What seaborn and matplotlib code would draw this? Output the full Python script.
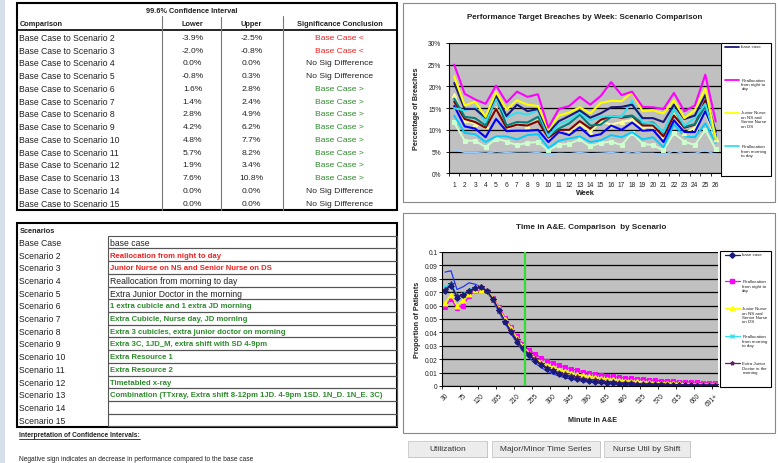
import numpy as np
import pandas as pd
import seaborn as sns
import matplotlib.pyplot as plt
from matplotlib.patches import Rectangle

sns.set_theme(style="white")
plt.rcParams['font.family'] = ['Liberation Sans', 'DejaVu Sans']

# ---- confidence interval table
comparisons = ["Base Case to Scenario %d" % i for i in range(2, 16)]
lower = [-3.9, -2.0, 0.0, -0.8, 1.6, 1.4, 2.8, 4.2, 4.8, 5.7, 1.9, 7.6, 0.0, 0.0]
upper = [-2.5, -0.8, 0.0, 0.3, 2.8, 2.4, 4.9, 6.2, 7.7, 8.2, 3.4, 10.8, 0.0, 0.0]

# ---- scenario table
scen_names = ["Base Case"] + ["Scenario %d" % i for i in range(2, 16)]
scen_desc = ["base case", "Reallocation from night to day", "Junior Nurse on NS and Senior Nurse on DS",
             "Reallocation from morning to day", "Extra Junior Doctor in the morning",
             "1 extra cubicle and 1 extra JD morning", "Extra Cubicle, Nurse day, JD morning",
             "Extra 3 cubicles, extra junior doctor on morning", "Extra 3C, 1JD_M, extra shift with SD 4-9pm",
             "Extra Resource 1", "Extra Resource 2", "Timetabled x-ray",
             "Combination (TTxray, Extra shift 8-12pm 1JD. 4-9pm 1SD. 1N_D. 1N_E. 3C)", "", ""]
scen_result = ["", "worse", "worse", "none", "none", "better", "better", "better", "better",
               "better", "better", "better", "better", "", ""]

# ---- weekly breaches (%)
weeks = list(range(1, 27))
wk_base = [20.8,14.8,14.8,12.8,18.0,13.2,15.8,14.3,14.8,9.4,12.0,13.2,14.5,12.8,13.8,15.2,15.3,15.8,12.7,12.7,11.8,15.8,12.5,13.3,18.0,9.5]
wk_night = [25.0,18.3,17.0,16.0,20.2,16.3,18.8,17.6,18.2,10.5,14.8,15.5,17.6,15.8,17.8,21.0,18.0,18.8,15.3,15.2,14.8,18.5,14.3,15.6,22.7,11.9]
wk_junior = [22.3,15.6,16.5,13.0,18.7,14.7,16.8,15.8,15.5,10.0,13.3,14.0,15.2,13.8,16.2,16.7,16.6,18.7,14.3,14.5,13.8,16.8,12.7,14.5,19.5,8.0]
wk_morning = [15.0,14.5,15.2,11.8,17.2,12.8,14.0,13.5,14.5,8.5,11.3,12.2,14.0,12.2,13.0,13.2,13.0,16.7,11.7,11.5,9.5,14.8,11.0,12.7,16.0,8.0]
wk_s6 = [16.5,12.5,11.8,10.5,14.8,10.5,11.2,11.0,12.0,8.2,10.0,10.0,12.0,10.3,12.3,13.2,12.8,13.2,11.0,11.0,8.5,13.3,10.5,11.2,16.8,8.0]
wk_s7 = [17.2,13.0,12.7,11.0,17.5,11.0,11.8,11.7,13.0,8.7,10.3,11.5,13.5,11.0,11.2,13.0,13.0,13.3,11.5,11.7,9.3,14.8,10.7,11.3,15.5,8.5]
wk_s8 = [15.5,10.8,10.3,8.3,12.5,9.7,9.8,9.8,10.0,7.2,9.5,8.8,10.6,8.5,9.0,11.0,10.0,11.7,9.8,10.0,7.2,12.2,9.5,9.5,14.3,8.8]
wk_s9 = [13.3,9.3,9.0,7.2,8.5,8.5,7.8,8.8,9.0,5.8,7.5,8.0,8.5,7.2,7.6,8.8,8.3,9.5,7.8,8.3,6.0,11.3,8.5,8.3,11.5,7.0]
wk_s10 = [11.7,7.5,7.5,6.0,8.0,7.3,6.5,7.0,7.2,5.3,6.6,6.8,7.8,6.2,7.0,7.3,6.5,9.3,6.8,6.5,5.3,9.2,7.3,6.5,10.0,5.5]
wk_s11 = [18.0,12.2,11.4,10.8,14.7,10.8,11.5,11.0,12.2,8.5,10.3,9.5,11.5,9.5,12.0,11.2,11.8,12.3,10.5,10.8,8.5,13.6,9.2,10.5,14.0,7.8]
wk_s12 = [5.5,4.8,4.8,4.6,5.0,4.8,4.6,4.6,4.8,4.2,4.6,4.5,4.8,4.5,4.6,4.8,4.5,5.0,4.6,4.6,4.2,5.2,4.5,4.6,5.3,4.3]

# ---- time in A&E (proportion of patients)
minutes = [str(m) for m in range(30, 691, 15)] + ["691+"]
t_base = [0.071,0.075,0.066,0.068,0.071,0.073,0.074,0.071,0.065,0.057,0.048,0.040,0.033,0.028,0.023,0.019,0.0155,0.013,0.011,0.009,
          0.0075,0.0063,0.0053,0.0045,0.0038,0.0032,0.0027,0.0023,0.002,0.0017,0.0015,0.0013,0.0011,0.001,0.0009,0.0008,0.0007,
          0.0006,0.0005,0.0005,0.0004,0.0004,0.0003,0.0003,0.0003,0.0002]
t_night = [0.059,0.065,0.058,0.060,0.067,0.071,0.072,0.071,0.066,0.059,0.051,0.044,0.037,0.031,0.027,0.024,0.021,0.019,0.017,0.0155,
           0.014,0.0128,0.0117,0.0107,0.0098,0.009,0.0083,0.0077,0.0071,0.0066,0.0061,0.0057,0.0053,0.0049,0.0046,0.0043,0.004,
           0.0037,0.0035,0.0033,0.0031,0.0029,0.0027,0.0025,0.0024,0.0022]
t_junior = [0.062,0.068,0.060,0.064,0.069,0.072,0.072,0.071,0.066,0.058,0.050,0.043,0.036,0.030,0.025,0.021,0.018,0.016,0.014,0.012,
            0.011,0.0098,0.0088,0.008,0.0072,0.0065,0.0059,0.0054,0.0049,0.0045,0.0041,0.0037,0.0034,0.0031,0.0029,0.0026,0.0024,
            0.0022,0.002,0.0019,0.0017,0.0016,0.0015,0.0014,0.0013,0.0012]
t_morning = [0.074,0.077,0.068,0.069,0.072,0.074,0.074,0.071,0.064,0.056,0.048,0.040,0.034,0.028,0.023,0.0195,0.016,0.0135,0.0115,0.0098,
             0.0084,0.0072,0.0062,0.0054,0.0047,0.0041,0.0036,0.0032,0.0028,0.0025,0.0022,0.002,0.0018,0.0016,0.0014,0.0013,0.0012,
             0.0011,0.001,0.0009,0.0008,0.0008,0.0007,0.0007,0.0006,0.0006]
t_juniordoc = [0.072,0.076,0.067,0.068,0.071,0.073,0.074,0.071,0.064,0.056,0.048,0.041,0.034,0.028,0.024,0.0198,0.0163,0.0138,0.0117,0.01,
               0.0086,0.0074,0.0064,0.0055,0.0048,0.0042,0.0037,0.0032,0.0028,0.0025,0.0022,0.002,0.0018,0.0016,0.0014,0.0013,0.0012,
               0.0011,0.001,0.0009,0.0008,0.0008,0.0007,0.0007,0.0006,0.0006]
t_extra = [0.085,0.086,0.072,0.074,0.077,0.076,0.074,0.070,0.064,0.055,0.047,0.039,0.032,0.026,0.021,0.017,0.014,0.011,0.009,0.0075,
           0.0062,0.0051,0.0042,0.0035,0.0029,0.0024,0.002,0.0017,0.0014,0.0012,0.001,0.0009,0.0008,0.0007,0.0006,0.0005,0.0004,
           0.0004,0.0003,0.0003,0.0002,0.0002,0.0002,0.0001,0.0001,0.0001]
target_minute = "240"

W, H = 779, 464
fig = plt.figure(figsize=(W / 100, H / 100), dpi=100)
fig.patch.set_facecolor("white")
bg = fig.add_axes([0, 0, 1, 1])
bg.set_xlim(0, W)
bg.set_ylim(H, 0)
bg.axis("off")


def px_axes(l, t, r, b):
    return fig.add_axes([l / W, 1 - b / H, (r - l) / W, (b - t) / H])


RED = "#ee2222"
GREEN = "#2e8b2e"
TXT = "#222222"

bg.add_patch(Rectangle((0, 0), 5, H, fc="#d6e0ea", ec="none"))

# ---------------- table 1
bg.add_patch(Rectangle((17, 4), 380, 206.5, fill=False, ec="black", lw=1.5))
bg.text(192, 11.5, "99.6% Confidence Interval", ha="center", va="center", fontsize=5.3, weight="bold", color=TXT)
bg.text(19.5, 24, "Comparison", ha="left", va="center", fontsize=5.3, weight="bold", color=TXT)
bg.text(192, 24, "Lower", ha="center", va="center", fontsize=5.3, weight="bold", color=TXT)
bg.text(251, 24, "Upper", ha="center", va="center", fontsize=5.3, weight="bold", color=TXT)
bg.text(339.5, 24, "Significance Conclusion", ha="center", va="center", fontsize=5.3, weight="bold", color=TXT)
bg.plot([17, 397], [30.7, 30.7], color="black", lw=1.2)
for xs, y0 in [(162.3, 16.5), (221.3, 17.5), (282.7, 16.5)]:
    bg.plot([xs, xs], [y0, 210.5], color="#777777", lw=0.8)
for i in range(len(comparisons)):
    y = 38.3 + i * 12.77
    bg.text(19.5, y, comparisons[i], ha="left", va="center", fontsize=6.2, color=TXT)
    bg.text(192.5, y, "%.1f%%" % lower[i], ha="center", va="center", fontsize=6.1, color=TXT)
    bg.text(251.5, y, "%.1f%%" % upper[i], ha="center", va="center", fontsize=6.1, color=TXT)
    if upper[i] < 0:
        concl, col = "Base Case <", RED
    elif lower[i] > 0:
        concl, col = "Base Case >", GREEN
    else:
        concl, col = "No Sig Difference", TXT
    bg.text(339.5, y, concl, ha="center", va="center", fontsize=6.1, color=col)

# ---------------- table 2
bg.add_patch(Rectangle((17, 224), 380, 204.3, fill=False, ec="black", lw=1.5))
bg.text(19.5, 231.7, "Scenarios", ha="left", va="center", fontsize=5.3, weight="bold", color=TXT)
for i in range(len(scen_names)):
    top = 236.7 + i * 12.71
    bg.add_patch(Rectangle((107.7, top), 289, 12.71, fill=False, ec="#555555", lw=0.8))
    y = top + 6.6
    bg.text(19.5, y, scen_names[i], ha="left", va="center", fontsize=6.2, color=TXT)
    res = scen_result[i]
    if res == "worse":
        bg.text(110, y, scen_desc[i], ha="left", va="center", fontsize=5.6, weight="bold", color=RED)
    elif res == "better":
        bg.text(110, y, scen_desc[i], ha="left", va="center", fontsize=5.6, weight="bold", color=GREEN)
    else:
        bg.text(110, y, scen_desc[i], ha="left", va="center", fontsize=6.2, color=TXT)

t = bg.text(19.5, 436, "Interpretation of Confidence Intervals:", ha="left", va="center", fontsize=4.8,
            weight="bold", color=TXT)
fig.canvas.draw()
bb = t.get_window_extent(renderer=fig.canvas.get_renderer())
bg.plot([bb.x0, bb.x1], [439.6, 439.6], color=TXT, lw=0.6)
bg.text(19.5, 459.5, "Negative sign indicates an decrease in performance compared to the base case",
        ha="left", va="center", fontsize=4.8, color=TXT)

# ---------------- chart 1 : breaches by week
bg.add_patch(Rectangle((403.3, 4), 371.7, 198.7, fill=False, ec="#888888", lw=0.8))
bg.text(585, 17.3, "Performance Target Breaches by Week: Scenario Comparison", ha="center", va="center",
        fontsize=5.8, weight="bold", color=TXT)

ax1 = px_axes(449, 44, 721, 174.3)
ax1.set_facecolor("#c0c0c0")
wk_series = [
    (wk_s12, "#99ccff", None, 1.0),
    (wk_s10, "#ccffcc", "s", 1.4),
    (wk_s9, "#00ccff", None, 1.4),
    (wk_s11, "#ffff99", "^", 1.4),
    (wk_s8, "#0000ff", None, 1.5),
    (wk_s6, "#800000", None, 1.5),
    (wk_s7, "#008080", None, 1.5),
    (wk_morning, "#33e0f0", None, 1.5),
    (wk_base, "#1a1a7a", None, 1.5),
    (wk_junior, "#ffff00", None, 1.5),
    (wk_night, "#ff00ff", None, 1.5),
]
for vals, col, mk, lw in wk_series:
    d = pd.DataFrame({"week": weeks, "pct": vals})
    sns.lineplot(data=d, x="week", y="pct", ax=ax1, color=col, lw=lw, marker=mk, markersize=3.2,
                 markeredgecolor=col, legend=False)
ax1.set_xlim(0.5, 26.5)
ax1.set_ylim(0, 30)
ax1.set_yticks(range(0, 31, 5))
ax1.set_yticklabels(["%d%%" % v for v in range(0, 31, 5)])
ax1.set_xticks(weeks)
ax1.set_xticks(np.arange(0.5, 27, 1), minor=True)
ax1.grid(axis="y", color="black", lw=0.9)
ax1.grid(axis="x", visible=False)
ax1.set_axisbelow(True)
ax1.tick_params(axis="x", which="major", length=0, pad=5.5, labelsize=4.8, labelcolor=TXT)
ax1.tick_params(axis="x", which="minor", bottom=True, length=2.5, direction="out", color="black", width=0.6)
ax1.tick_params(axis="y", left=True, length=2.5, direction="out", color="black", width=0.6, pad=3,
                labelsize=4.8, labelcolor=TXT)
for s in ["top", "right"]:
    ax1.spines[s].set_visible(False)
for s in ["left", "bottom"]:
    ax1.spines[s].set_color("black")
    ax1.spines[s].set_linewidth(0.8)
ax1.set_xlabel("Week", fontsize=5.2, weight="bold", color=TXT, labelpad=1)
ax1.set_ylabel("Percentage of Breaches", fontsize=5.2, weight="bold", color=TXT)
ax1.yaxis.set_label_coords(-0.105, 0.5)

# legend 1
bg.add_patch(Rectangle((721, 43.7), 50, 133, fc="white", ec="black", lw=0.8))
leg1 = [("#1a1a7a", "base case", 47.7), ("#ff00ff", "Reallocation\nfrom night to\nday", 80.7),
        ("#ffff00", "Junior Nurse\non NS and\nSenior Nurse\non DS", 113.7),
        ("#33e0f0", "Reallocation\nfrom morning\nto day", 147.3)]
for col, lab, y in leg1:
    bg.plot([725, 739], [y, y], color=col, lw=1.3)
    bg.text(741.5, y - 2.2, lab, ha="left", va="top", fontsize=3.2, color=TXT, linespacing=1.15)

# ---------------- chart 2 : time in A&E
bg.add_patch(Rectangle((403.3, 214), 371.7, 220, fill=False, ec="#888888", lw=0.8))
bg.text(591, 228, "Time in A&E. Comparison  by Scenario", ha="center", va="center",
        fontsize=5.9, weight="bold", color=TXT)

ax2 = px_axes(442, 253, 718, 387)
ax2.set_facecolor("#c0c0c0")
idx = np.arange(len(minutes))
ta_series = [
    (t_extra, "#2233ff", None, 0.9, 0),
    (t_night, "#ff00ff", "s", 0.9, 3.5),
    (t_junior, "#ffff00", "^", 0.9, 3.5),
    (t_morning, "#33e0f0", "x", 0.9, 3.2),
    (t_juniordoc, "#602060", "*", 0.9, 4),
    (t_base, "#1a1a7a", "D", 0.9, 2.8),
]
for vals, col, mk, lw, ms in ta_series:
    d = pd.DataFrame({"i": idx, "p": vals})
    sns.lineplot(data=d, x="i", y="p", ax=ax2, color=col, lw=lw, marker=mk, markersize=ms,
                 markeredgecolor=col, legend=False)
ax2.axvline(minutes.index(target_minute) - 0.65, color="#33dd33", lw=1.6)
ax2.set_xlim(-0.5, len(minutes) - 0.5)
ax2.set_ylim(0, 0.1)
yt = np.round(np.arange(0, 0.1001, 0.01), 2)
ax2.set_yticks(yt)
ax2.set_yticklabels(["%g" % v for v in yt])
ax2.set_xticks(idx[::3])
ax2.set_xticklabels(minutes[::3], rotation=45, ha="right", rotation_mode="anchor")
ax2.set_xticks(np.arange(-0.5, len(minutes), 3), minor=True)
ax2.grid(axis="y", color="black", lw=0.9)
ax2.grid(axis="x", visible=False)
ax2.set_axisbelow(True)
ax2.tick_params(axis="x", which="major", length=0, pad=4, labelsize=4.8, labelcolor=TXT)
ax2.tick_params(axis="x", which="minor", bottom=True, length=2.5, direction="out", color="black", width=0.6)
ax2.tick_params(axis="y", left=True, length=2, direction="out", color="black", width=0.6, pad=1,
                labelsize=4.8, labelcolor=TXT)
for s in ["top", "right"]:
    ax2.spines[s].set_visible(False)
for s in ["left", "bottom"]:
    ax2.spines[s].set_color("black")
    ax2.spines[s].set_linewidth(0.8)
ax2.set_xlabel("Minute in A&E", fontsize=5.2, weight="bold", color=TXT)
ax2.xaxis.set_label_coords(0.545, -0.225)
ax2.set_ylabel("Proportion of Patients", fontsize=5.2, weight="bold", color=TXT)
ax2.yaxis.set_label_coords(-0.075, 0.5)

# legend 2
bg.add_patch(Rectangle((720, 252), 51, 136, fc="white", ec="black", lw=0.8))
leg2 = [("#1a1a7a", "D", "base case", 255.7), ("#ff00ff", "s", "Reallocation\nfrom night to\nday", 282.3),
        ("#ffff00", "^", "Junior Nurse\non NS and\nSenior Nurse\non DS", 309.3),
        ("#33e0f0", "x", "Reallocation\nfrom morning\nto day", 337.3),
        ("#602060", "*", "Extra Junior\nDoctor in the\nmorning", 364.3)]
for col, mk, lab, y in leg2:
    bg.plot([725, 732.5, 740], [y, y, y], color=col, lw=0.9, marker=mk, markersize=2.8, markevery=[1],
            markeredgecolor=col)
    bg.text(742.3, y - 2.2, lab, ha="left", va="top", fontsize=3.2, color=TXT, linespacing=1.15)

# ---------------- buttons
for x0, x1, lab in [(408, 487, "Utilization"), (492, 600, "Major/Minor Time Series"), (604, 690, "Nurse Util by Shift")]:
    bg.add_patch(Rectangle((x0 + 1, 443), x1 - x0, 16, fc="#9a9a9a", ec="none"))
    bg.add_patch(Rectangle((x0, 442), x1 - x0, 16, fc="#ececec", ec="#c8c8c8", lw=0.6))
    bg.text((x0 + x1) / 2, 450, lab, ha="center", va="center", fontsize=6, color="#333333")

fig.savefig("out.png", dpi=100)
